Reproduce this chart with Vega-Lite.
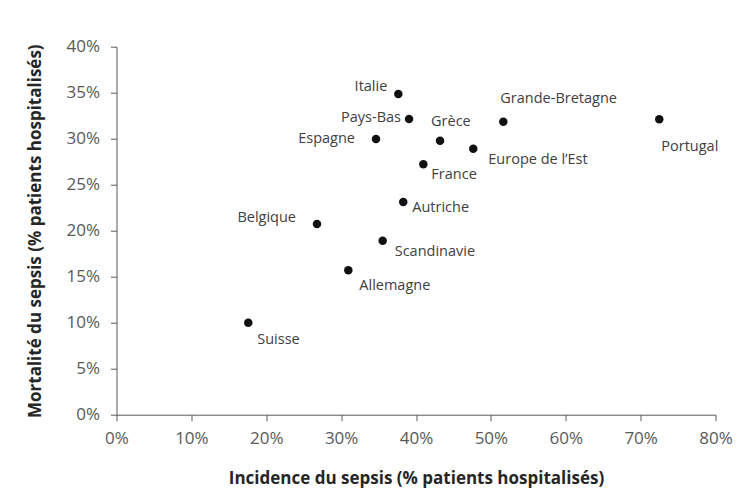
{
  "$schema": "https://vega.github.io/schema/vega-lite/v6.json",
  "width": 599,
  "height": 368,
  "autosize": {"type": "none"},
  "padding": {"left": 116.5, "top": 46.7, "right": 28.5, "bottom": 89.3},
  "background": "white",
  "config": {
    "view": {"stroke": null},
    "font": "Open Sans",
    "axis": {
      "grid": false,
      "labelFlush": false,
      "domainColor": "#595959",
      "tickColor": "#595959",
      "tickSize": 6,
      "labelFont": "Open Sans",
      "labelFontSize": 17,
      "labelColor": "#595959",
      "titleFont": "Open Sans",
      "titleFontSize": 17,
      "titleFontWeight": "bold",
      "titleColor": "#262626"
    }
  },
  "data": {
    "values": [
      {"pays": "Italie", "incidence": 0.3764, "mortalite": 0.3486},
      {"pays": "Pays-Bas", "incidence": 0.3907, "mortalite": 0.3214},
      {"pays": "Espagne", "incidence": 0.3466, "mortalite": 0.2997},
      {"pays": "Grèce", "incidence": 0.4321, "mortalite": 0.2978},
      {"pays": "Grande-Bretagne", "incidence": 0.5166, "mortalite": 0.3185},
      {"pays": "Portugal", "incidence": 0.7249, "mortalite": 0.3211},
      {"pays": "Europe de l’Est", "incidence": 0.4765, "mortalite": 0.2891},
      {"pays": "France", "incidence": 0.4098, "mortalite": 0.2722},
      {"pays": "Autriche", "incidence": 0.3830, "mortalite": 0.2312},
      {"pays": "Scandinavie", "incidence": 0.3555, "mortalite": 0.1891},
      {"pays": "Belgique", "incidence": 0.2678, "mortalite": 0.2073},
      {"pays": "Allemagne", "incidence": 0.3096, "mortalite": 0.1570},
      {"pays": "Suisse", "incidence": 0.1760, "mortalite": 0.1000}
    ]
  },
  "encoding": {
    "x": {
      "field": "incidence", "type": "quantitative",
      "scale": {"domain": [0, 0.8], "nice": false, "zero": true},
      "axis": {
        "title": "Incidence du sepsis (% patients hospitalisés)",
        "format": ".0%",
        "values": [0, 0.1, 0.2, 0.3, 0.4, 0.5, 0.6, 0.7, 0.8],
        "labelPadding": 10,
        "titlePadding": 24
      }
    },
    "y": {
      "field": "mortalite", "type": "quantitative",
      "scale": {"domain": [0, 0.4], "nice": false},
      "axis": {
        "title": "Mortalité du sepsis (% patients hospitalisés)",
        "format": ".0%",
        "values": [0, 0.05, 0.1, 0.15, 0.2, 0.25, 0.3, 0.35, 0.4],
        "labelPadding": 11,
        "titlePadding": 22
      }
    },
    "text": {"field": "pays"}
  },
  "layer": [
    {"mark": {"type": "point", "filled": true, "size": 72, "color": "#111111", "opacity": 1}},
    {"transform": [{"filter": "datum.pays == 'Italie'"}], "mark": {"type": "text", "align": "right", "baseline": "middle", "dx": -11, "dy": -7, "fontSize": 14.5, "color": "#404040"}},
    {"transform": [{"filter": "datum.pays == 'Pays-Bas'"}], "mark": {"type": "text", "align": "right", "baseline": "middle", "dx": -8, "dy": -1, "fontSize": 14.5, "color": "#404040"}},
    {"transform": [{"filter": "datum.pays == 'Espagne'"}], "mark": {"type": "text", "align": "right", "baseline": "middle", "dx": -21, "dy": 0, "fontSize": 14.5, "color": "#404040"}},
    {"transform": [{"filter": "datum.pays == 'Belgique'"}], "mark": {"type": "text", "align": "right", "baseline": "middle", "dx": -21, "dy": -6, "fontSize": 14.5, "color": "#404040"}},
    {"transform": [{"filter": "datum.pays == 'Grèce'"}], "mark": {"type": "text", "align": "left", "baseline": "middle", "dx": -9, "dy": -19, "fontSize": 14.5, "color": "#404040"}},
    {"transform": [{"filter": "datum.pays == 'Grande-Bretagne'"}], "mark": {"type": "text", "align": "left", "baseline": "middle", "dx": -3, "dy": -23, "fontSize": 14.5, "color": "#404040"}},
    {"transform": [{"filter": "datum.pays == 'Portugal'"}], "mark": {"type": "text", "align": "left", "baseline": "middle", "dx": 2, "dy": 28, "fontSize": 14.5, "color": "#404040"}},
    {"transform": [{"filter": "datum.pays == 'Europe de l’Est'"}], "mark": {"type": "text", "align": "left", "baseline": "middle", "dx": 15, "dy": 11, "fontSize": 14.5, "color": "#404040"}},
    {"transform": [{"filter": "datum.pays == 'France'"}], "mark": {"type": "text", "align": "left", "baseline": "middle", "dx": 8, "dy": 11, "fontSize": 14.5, "color": "#404040"}},
    {"transform": [{"filter": "datum.pays == 'Autriche'"}], "mark": {"type": "text", "align": "left", "baseline": "middle", "dx": 9, "dy": 6, "fontSize": 14.5, "color": "#404040"}},
    {"transform": [{"filter": "datum.pays == 'Scandinavie'"}], "mark": {"type": "text", "align": "left", "baseline": "middle", "dx": 12, "dy": 11, "fontSize": 14.5, "color": "#404040"}},
    {"transform": [{"filter": "datum.pays == 'Allemagne'"}], "mark": {"type": "text", "align": "left", "baseline": "middle", "dx": 11, "dy": 16, "fontSize": 14.5, "color": "#404040"}},
    {"transform": [{"filter": "datum.pays == 'Suisse'"}], "mark": {"type": "text", "align": "left", "baseline": "middle", "dx": 9, "dy": 17, "fontSize": 14.5, "color": "#404040"}}
  ]
}
